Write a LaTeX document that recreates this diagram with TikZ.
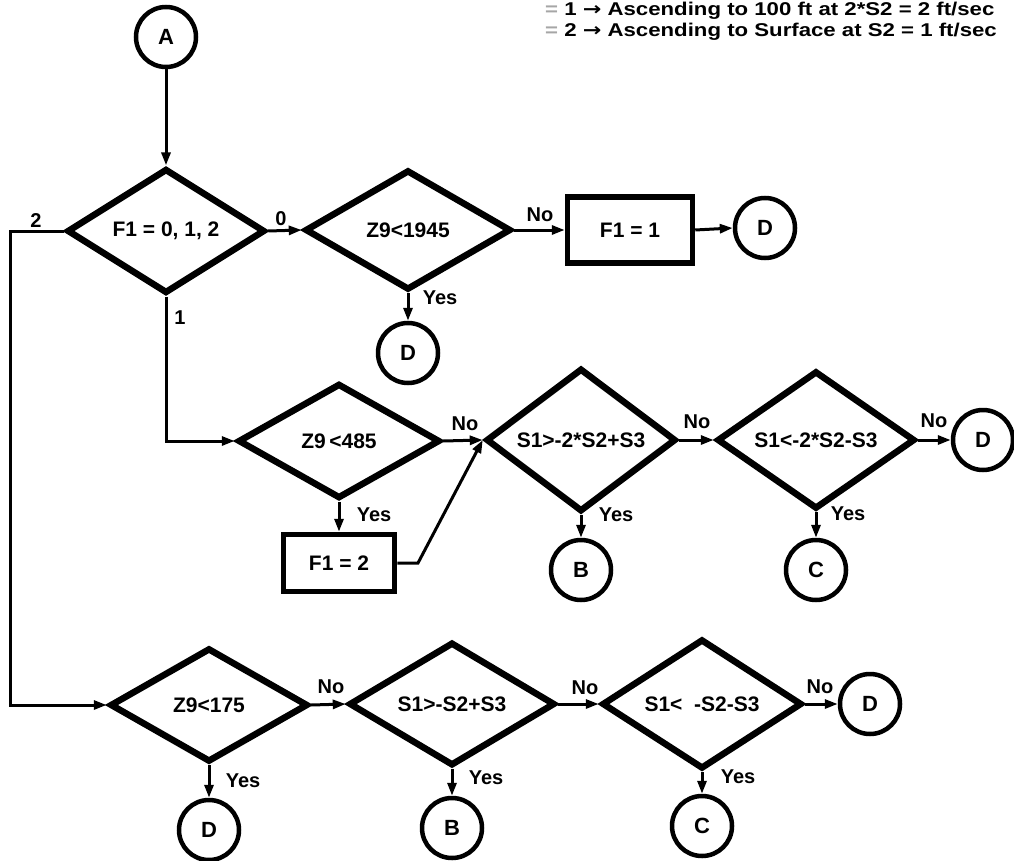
\documentclass[tikz,border=0pt]{standalone}
\usepackage{fontspec}
\setmainfont{Liberation Sans}
\newfontfamily\widefont{Liberation Sans}[FakeStretch=1.2]
\newfontfamily\arrowfont{DejaVu Sans}[FakeStretch=1.2]
\usetikzlibrary{shapes.geometric,arrows.meta}
\begin{document}
\begin{tikzpicture}[x=1pt,y=-1pt,
  txt/.style={font=\bfseries\fontsize{21}{24}\selectfont},
  dec/.style={diamond, draw, line width=6.5pt, inner sep=0pt, txt},
  term/.style={circle, draw, line width=4.5pt, minimum size=60pt, inner sep=0pt, font=\bfseries\fontsize{22}{25}\selectfont},
  proc/.style={rectangle, draw, line width=5.5pt, inner sep=0pt, txt},
  conn/.style={line width=3pt, -{Triangle[length=13pt,width=9pt]}},
  lbl/.style={inner sep=0pt, font=\bfseries\fontsize{20}{23}\selectfont},
  note/.style={inner sep=0pt, anchor=base west, font=\widefont\bfseries\fontsize{18.5}{21}\selectfont}]
\useasboundingbox (0,0) rectangle (1014,861);

% legend
\node[note] (n1) at (545,16) {{\color{black!35}=} 1 {\arrowfont\bfseries →} Ascending to 100 ft at 2*S2 = 2 ft/sec};
\node[note] (n2) at (545,37) {{\color{black!35}=} 2 {\arrowfont\bfseries →} Ascending to Surface at S2 = 1 ft/sec};

% row 1
\node[term] (A) at (166,37) {A};
\node[dec, minimum width=198, minimum height=116] (f1) at (166,231) {F1 = 0, 1, 2};
\node[dec, minimum width=206, minimum height=120] (z1945) at (408,230) {Z9<1945};
\node[proc, minimum width=125, minimum height=66] (b1) at (630,230) {F1 = 1};
\node[term] (d1) at (765,228) {D};
\node[term] (d2) at (408,353) {D};

% row 2
\node[dec, minimum width=202, minimum height=115] (z485) at (339,441) {Z9\,<485};
\node[proc, minimum width=111, minimum height=57] (b2) at (339,563) {F1 = 2};
\node[dec, minimum width=190, minimum height=114] (s1a) at (581,440) {S1>-2*S2+S3};
\node[term] (b1c) at (581,570) {B};
\node[dec, minimum width=198, minimum height=114] (s1b) at (816,440) {S1<-2*S2-S3};
\node[term] (c1) at (816,570) {C};
\node[term] (d3) at (983,440) {D};

% row 3
\node[dec, minimum width=198, minimum height=114] (z175) at (209,705) {Z9<175};
\node[term] (d4) at (209,830) {D};
\node[dec, minimum width=206, minimum height=116] (s2a) at (452,704) {S1>-S2+S3};
\node[term] (b2c) at (452,828) {B};
\node[dec, minimum width=200, minimum height=117] (s2b) at (702,704) {S1<~~-S2-S3};
\node[term] (c2) at (702,826) {C};
\node[term] (d5) at (870,704) {D};

% helper coordinates
\coordinate (k2) at (10,231);
\coordinate (kb) at (418,563);

% connectors
\draw[conn] (A) -- (f1.north);
\draw[conn] (f1.east) -- (z1945.west);
\draw[conn] (z1945.east) -- (b1.west);
\draw[conn] (b1.east) -- (d1.west);
\draw[conn] (z1945.south) -- (d2.north);
\draw[conn] (f1.south) |- (z485.west);
\draw[conn] (f1.west) -- (k2) |- (z175.west);
\draw[conn] (z485.east) -- (s1a.west);
\draw[conn] (z485.south) -- (b2.north);
\draw[conn] (b2.east) -- (kb) -- (s1a.west);
\draw[conn] (s1a.east) -- (s1b.west);
\draw[conn] (s1a.south) -- (b1c.north);
\draw[conn] (s1b.east) -- (d3.west);
\draw[conn] (s1b.south) -- (c1.north);
\draw[conn] (z175.east) -- (s2a.west);
\draw[conn] (z175.south) -- (d4.north);
\draw[conn] (s2a.east) -- (s2b.west);
\draw[conn] (s2a.south) -- (b2c.north);
\draw[conn] (s2b.east) -- (d5.west);
\draw[conn] (s2b.south) -- (c2.north);

% labels
\node[lbl] (l0) at (281,219) {0};
\node[lbl] (l2) at (36,221) {2};
\node[lbl] (l1) at (180,318) {1};
\node[lbl] (ln1) at (540,215) {No};
\node[lbl] (ly1) at (440,298) {Yes};
\node[lbl] (ln2) at (465,424) {No};
\node[lbl] (ly2) at (374,515) {Yes};
\node[lbl] (ln3) at (697,422) {No};
\node[lbl] (ly3) at (616,515) {Yes};
\node[lbl] (ln4) at (934,421) {No};
\node[lbl] (ly4) at (848,514) {Yes};
\node[lbl] (ln5) at (331,687) {No};
\node[lbl] (ly5) at (243,781) {Yes};
\node[lbl] (ln6) at (585,688) {No};
\node[lbl] (ly6) at (486,778) {Yes};
\node[lbl] (ln7) at (820,687) {No};
\node[lbl] (ly7) at (738,777) {Yes};
\end{tikzpicture}
\end{document}
